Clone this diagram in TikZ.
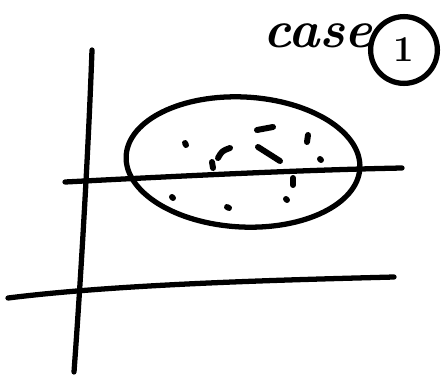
\documentclass[tikz,border=0pt]{standalone}
\usetikzlibrary{positioning}
\tikzset{
  pen/.style={line width=3pt,line cap=round,line join=round,black},
  speck/.style={line width=3.4pt,line cap=round,black},
  scrawl/.style={font=\fontsize{30pt}{30pt}\selectfont\bfseries\itshape,inner sep=0pt},
}
\begin{document}
\begin{tikzpicture}[x=0.02cm,y=-0.02cm]
  \useasboundingbox (0,0) rectangle (446,379);
  % axes
  \draw[pen] (92,50) .. controls (88,160) and (80,290) .. (74,372);
  \draw[pen] (8,298) .. controls (120,284) and (280,280) .. (394,277);
  % cluster
  \draw[pen,rotate around={-3:(243,162)}] (243,162) ellipse (117 and 65);
  \draw[pen] (65,182) .. controls (180,176) and (300,170) .. (402,168);
  % specks
  \foreach \xa/\ya/\xb/\yb in {185/143/186/145, 257/130/273/127, 308/135/307/142, 320/159/321/160,
      258/147/280/161, 212/162/213/168, 293/178/293/185, 172/197/173/198,
      227/207/229/208, 286/199/287/200}
    \draw[speck] (\xa,\ya) -- (\xb,\yb);
  \draw[speck] (218,158) .. controls (222,151) .. (230,148);
  % label
  \node[scrawl] (case) at (318,36) {case};
  \node[draw,circle,line width=3pt,minimum size=38pt,inner sep=0pt,
    font=\huge\bfseries] (one) at (404,50) {1};
\end{tikzpicture}
\end{document}
